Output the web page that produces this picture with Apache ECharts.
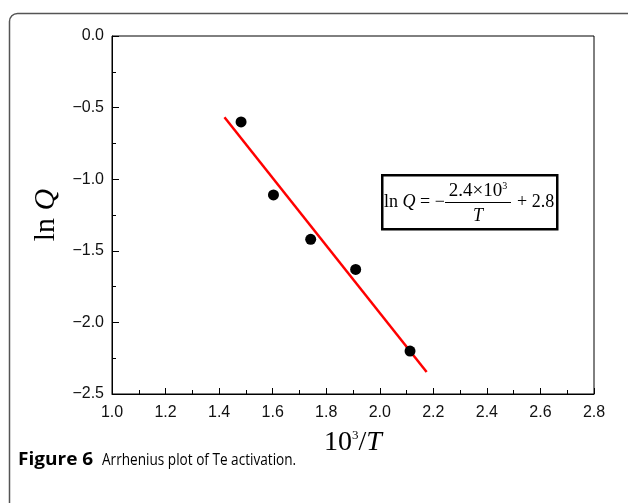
<!DOCTYPE html>
<html>
<head>
<meta charset="utf-8">
<title>Arrhenius plot</title>
<script src="https://cdn.jsdelivr.net/npm/echarts@6/dist/echarts.min.js"></script>
<style>
html,body{margin:0;padding:0;background:#fff;}
#chart{width:628px;height:503px;}
</style>
</head>
<body>
<div id="chart"></div>
<script>
//测量点 10^3/T 与 lnQ
var invTemp = [1.482, 1.603, 1.742, 1.910, 2.113];
var lnQ = [-0.60, -1.11, -1.42, -1.63, -2.20];
//拟合直线两端
var fitX = [1.42, 2.175];
var fitY = [-0.567, -2.347];
//坐标轴范围
var xRange = [1.0, 2.8];
var yRange = [-2.5, 0.0];

var serif = '"Liberation Serif", "DejaVu Serif", serif';
var sans = '"Liberation Sans", Arial, sans-serif';
var capFont = '"Open Sans", "Noto Sans", sans-serif';

//负号用长横
function minusFmt(v){
	return v.toFixed(1).replace('-', '\u2212');
}

var chart = echarts.init(document.getElementById('chart'), null, {renderer:'canvas'});

var option = {
	backgroundColor:'#fff',
	animation:false,
	grid:{
		left:112, right:34, top:36, bottom:109,
		show:true, borderColor:'#000', borderWidth:1
	},
	xAxis:{
		type:'value', min:xRange[0], max:xRange[1], interval:0.2,
		axisLine:{onZero:false, lineStyle:{color:'#000', width:1}},
		axisTick:{inside:true, length:6, lineStyle:{color:'#000'}},
		minorTick:{show:true, splitNumber:2, length:4, lineStyle:{color:'#000'}},
		splitLine:{show:false},
		axisLabel:{color:'#111', fontFamily:sans, fontSize:16, margin:11, formatter:minusFmt},
		name:'10{sup|3}/{it|T}',
		nameLocation:'middle', nameGap:35,
		nameTextStyle:{
			fontFamily:serif, fontSize:28, color:'#000',
			rich:{
				sup:{fontFamily:serif, fontSize:13, verticalAlign:'top', lineHeight:28, color:'#000'},
				it:{fontFamily:serif, fontSize:28, fontStyle:'italic', color:'#000'}
			}
		}
	},
	yAxis:{
		type:'value', min:yRange[0], max:yRange[1], interval:0.5,
		axisLine:{onZero:false, lineStyle:{color:'#000', width:1}},
		axisTick:{inside:true, length:7, lineStyle:{color:'#000'}},
		minorTick:{show:true, splitNumber:2, length:4, lineStyle:{color:'#000'}},
		splitLine:{show:false},
		axisLabel:{color:'#111', fontFamily:sans, fontSize:16, margin:8, formatter:minusFmt},
		name:'ln {it|Q}',
		nameLocation:'middle', nameRotate:90, nameGap:48,
		nameTextStyle:{
			fontFamily:serif, fontSize:30, color:'#000',
			rich:{
				it:{fontFamily:serif, fontSize:30, fontStyle:'italic', color:'#000'}
			}
		}
	},
	series:[
		{
			type:'line',
			data:[[fitX[0], fitY[0]], [fitX[1], fitY[1]]],
			showSymbol:false,
			lineStyle:{color:'#ff0000', width:2.5},
			z:2
		},
		{
			type:'scatter',
			data:invTemp.map(function(x, i){ return [x, lnQ[i]]; }),
			symbol:'circle', symbolSize:11,
			itemStyle:{color:'#000', opacity:1},
			z:3
		}
	],
	graphic:[
		//外框
		{
			type:'rect', left:7, top:11,
			shape:{width:640, height:520, r:8},
			style:{fill:'none', stroke:'#555', lineWidth:1.5},
			silent:true
		},
		//公式框
		{
			type:'rect', left:381, top:174,
			shape:{width:175, height:54},
			style:{fill:'#fff', stroke:'#000', lineWidth:2.5},
			z:10
		},
		{
			type:'text', x:384, y:202, z:11,
			style:{
				text:'ln {it|Q} = \u2212',
				fill:'#000', font:'18px ' + serif, textVerticalAlign:'middle',
				rich:{it:{fontFamily:serif, fontSize:18, fontStyle:'italic', fill:'#000'}}
			}
		},
		{
			type:'text', x:478, y:191, z:11,
			style:{
				text:'2.4\u00d710{sup|3}',
				fill:'#000', font:'19px ' + serif, textAlign:'center', textVerticalAlign:'middle',
				rich:{sup:{fontFamily:serif, fontSize:10, verticalAlign:'top', lineHeight:19, fill:'#000'}}
			}
		},
		{
			type:'line', z:11,
			shape:{x1:445, y1:202.5, x2:511, y2:202.5},
			style:{stroke:'#000', lineWidth:1}
		},
		{
			type:'text', x:478, y:216, z:11,
			style:{text:'T', fill:'#000', font:'italic 18px ' + serif, textAlign:'center', textVerticalAlign:'middle'}
		},
		{
			type:'text', x:517, y:202, z:11,
			style:{text:'+ 2.8', fill:'#000', font:'18px ' + serif, textVerticalAlign:'middle'}
		},
		//图注
		{
			type:'text', x:18, y:460, scaleX:1.12,
			style:{text:'Figure 6', fill:'#000', font:'bold 17px ' + capFont, textVerticalAlign:'middle'}
		},
		{
			type:'text', x:102, y:460, scaleX:0.8,
			style:{text:'Arrhenius plot of Te activation.', fill:'#000', font:'17px ' + capFont, textVerticalAlign:'middle'}
		}
	]
};

chart.setOption(option);
</script>
</body>
</html>
